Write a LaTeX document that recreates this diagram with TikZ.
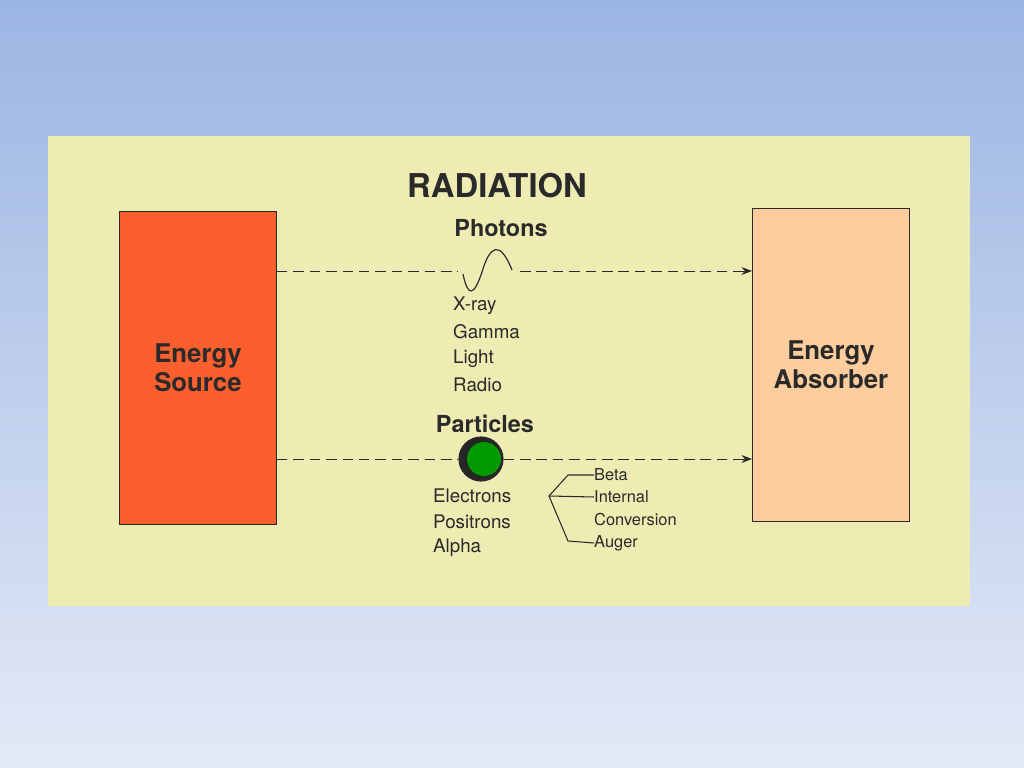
\documentclass[tikz,border=0pt]{standalone}
\usepackage{fontspec}
\setmainfont{TeX Gyre Heros}
\usetikzlibrary{arrows.meta}
\definecolor{bgtop}{HTML}{9BB5E3}
\definecolor{bgbot}{HTML}{E4E9F6}
\definecolor{panel}{HTML}{EFECB3}
\definecolor{src}{HTML}{FC5F2E}
\definecolor{absb}{HTML}{FDCD9E}
\definecolor{ink}{HTML}{2A2A2A}
\begin{document}
\begin{tikzpicture}[x=0.03cm,y=-0.03cm,
  box/.style={draw=ink,line width=0.8pt,minimum width=157*0.03cm,anchor=north west,inner sep=0},
  lbl/.style={font=\fontsize{22}{25}\selectfont\bfseries,text=ink,align=center},
  item/.style={font=\fontsize{16}{18}\selectfont,text=ink,anchor=west,inner sep=0},
  sub/.style={font=\fontsize{14}{16}\selectfont,text=ink,anchor=west,inner sep=0},
  ray/.style={draw=ink,dashed,dash pattern=on 9pt off 5pt,line width=0.8pt}]
\useasboundingbox (0,0) rectangle (1024,768);
\shade[top color=bgtop,bottom color=bgbot] (0,0) rectangle (1024,768);
\fill[panel] (48,136) rectangle (970,606);
\node[box,fill=src,minimum height=313*0.03cm] (s) at (119,211) {};
\node[box,fill=absb,minimum height=313*0.03cm] (a) at (752,208) {};
\node[lbl] at (s.center) {Energy\\Source};
\node[lbl] at (a.center) {Energy\\Absorber};
\node[font=\fontsize{28}{30}\selectfont\bfseries,text=ink] (t) at (497,186) {RADIATION};
\node[font=\fontsize{20}{22}\selectfont\bfseries,text=ink] (ph) at (501,228) {Photons};
\node[font=\fontsize{20}{22}\selectfont\bfseries,text=ink] (pa) at (485,424) {Particles};
\coordinate (w1) at (458,271); \coordinate (w2) at (520,271);
\draw[ray] (s.east |- w1) -- (w1);
\draw[ray,-{Stealth[length=9pt]}] (w2) -- (a.west |- w2);
\draw[ink,line width=1pt] (463,274) .. controls (468,298) and (474,296) .. (482,272)
  .. controls (490,245) and (500,240) .. (512,270);
\node[item] at (453,306) {X-ray};
\node[item] at (453,332) {Gamma};
\node[item] at (453,359) {Light};
\node[item] at (453,385) {Radio};
\node[circle,draw=ink,line width=1pt,fill=black!85,minimum size=44*0.03cm,inner sep=0] (p) at (481,459) {};
\fill[green!60!black] (484,459) circle (17);
\draw[ray] (s.east |- p) -- (p.west);
\draw[ray,-{Stealth[length=9pt]}] (p.east) -- (a.west |- p);
\node[item] (el) at (433,496) {Electrons};
\node[item] at (433,522) {Positrons};
\node[item] at (433,548) {Alpha};
\coordinate (br) at (549,496);
\node[sub] (be) at (594,475) {Beta};
\node[sub] (in) at (594,497) {Internal};
\node[sub] at (594,520) {Conversion};
\node[sub] (au) at (594,543) {Auger};
\draw[ink,line width=0.9pt] (br) -- (568,475) -- (be.west);
\draw[ink,line width=0.9pt] (br) -- (in.west);
\draw[ink,line width=0.9pt] (br) -- (568,541) -- (au.west);
\end{tikzpicture}
\end{document}
